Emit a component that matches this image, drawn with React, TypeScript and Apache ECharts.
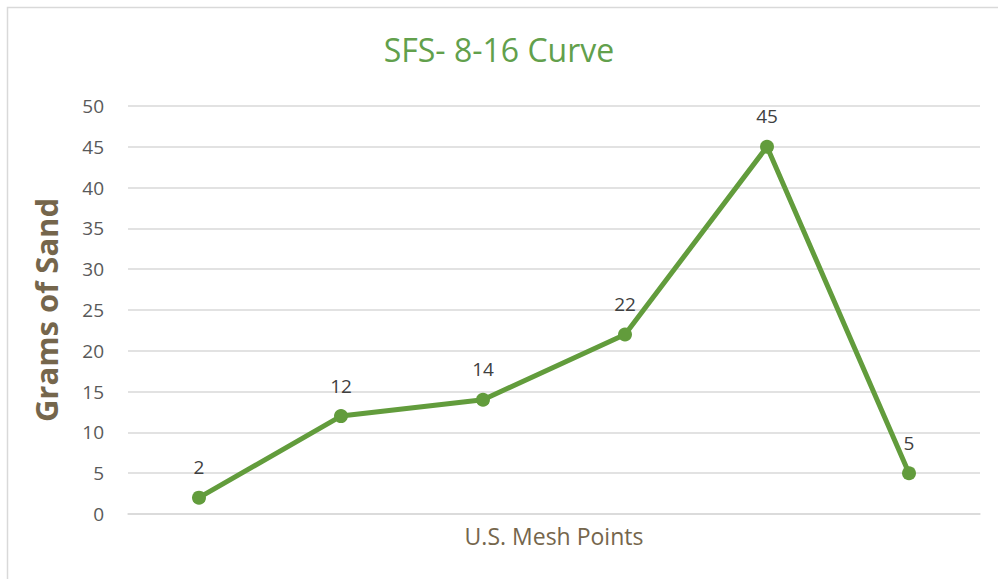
import React, { useEffect, useRef } from "react";
import * as echarts from "echarts";

const categories = ["1", "2", "3", "4", "5", "6"];
const grams = [2, 12, 14, 22, 45, 5];
const yTicks = { min: 0, max: 50, interval: 5 };

export default function App() {
  const ref = useRef<HTMLDivElement>(null);
  useEffect(() => {
    if (!ref.current) return;
    const chart = echarts.init(ref.current, null, { renderer: "svg" });
    chart.setOption({
      animation: false,
      backgroundColor: "#ffffff",
      textStyle: { fontFamily: "Open Sans, Noto Sans, sans-serif" },
      title: {
        text: "SFS- 8-16 Curve",
        left: "center",
        top: 28,
        textStyle: { color: "#62a04c", fontSize: 32, fontWeight: "normal", fontFamily: "Open Sans, Noto Sans, sans-serif" },
      },
      graphic: [
        {
          type: "rect",
          shape: { x: 7.5, y: 7.5, width: 1100, height: 700 },
          style: { fill: "none", stroke: "#d9d9d9", lineWidth: 1.5 },
          silent: true,
        },
      ],
      grid: { left: 128, right: 18, top: 106, bottom: 65 },
      xAxis: {
        type: "category",
        data: categories,
        boundaryGap: true,
        name: "U.S. Mesh Points",
        nameLocation: "middle",
        nameGap: 10,
        nameTextStyle: { color: "#75664c", fontSize: 23, verticalAlign: "top" },
        axisLine: { show: true, lineStyle: { color: "#d9d9d9", width: 1.5 } },
        axisTick: { show: false },
        axisLabel: { show: false },
      },
      yAxis: {
        type: "value",
        min: yTicks.min,
        max: yTicks.max,
        interval: yTicks.interval,
        name: "Grams of Sand",
        nameLocation: "middle",
        nameGap: 67,
        nameTextStyle: { color: "#75664c", fontSize: 31, fontWeight: "bold" },
        axisLine: { show: false },
        axisTick: { show: false },
        axisLabel: { color: "#595959", fontSize: 19, margin: 24 },
        splitLine: { lineStyle: { color: "#d9d9d9", width: 1.5 } },
      },
      series: [
        {
          type: "line",
          data: grams,
          color: "#629c3c",
          lineStyle: { width: 5, color: "#629c3c" },
          symbol: "circle",
          symbolSize: 14,
          itemStyle: { color: "#629c3c" },
          label: { show: true, position: "top", distance: 14, color: "#404040", fontSize: 19 },
        },
      ],
    });
    return () => chart.dispose();
  }, []);
  return (
    <div
      ref={ref}
      style={{ position: "absolute", left: 0, top: 0, width: 998, height: 579 }}
    />
  );
}
